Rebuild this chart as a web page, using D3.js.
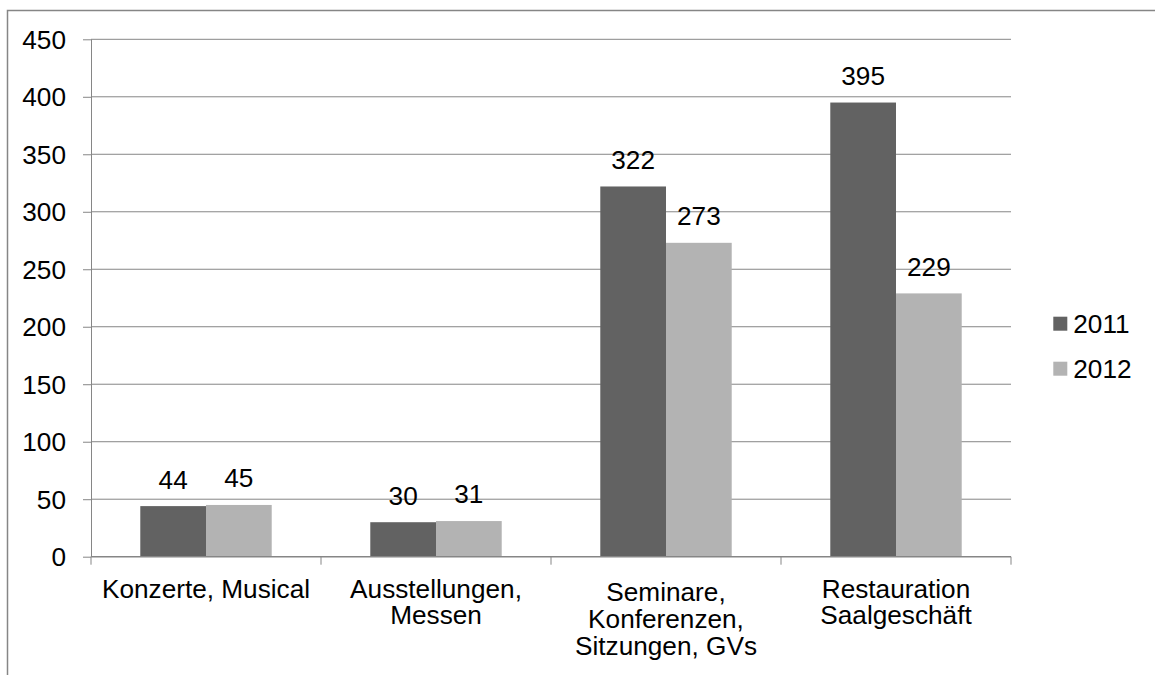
<!DOCTYPE html>
<html>
<head>
<meta charset="utf-8">
<script src="https://cdn.jsdelivr.net/npm/d3@7"></script>
<style>
  html, body { margin: 0; padding: 0; background: #fff; }
  svg { display: block; font-family: "Liberation Sans", Arial, sans-serif; }
</style>
</head>
<body>
<svg id="chart" width="1155" height="675"></svg>
<script>
const categories = ["Konzerte, Musical", "Ausstellungen, Messen", "Seminare, Konferenzen, Sitzungen, GVs", "Restauration Saalgeschäft"];
const categoryLines = [["Konzerte, Musical"], ["Ausstellungen,", "Messen"], ["Seminare,", "Konferenzen,", "Sitzungen, GVs"], ["Restauration", "Saalgeschäft"]];
const seriesNames = ["2011", "2012"];
const values2011 = [44, 30, 322, 395];
const values2012 = [45, 31, 273, 229];
const yTicks = [0, 50, 100, 150, 200, 250, 300, 350, 400, 450];
const colors = ["#626262", "#b3b3b3"];

(function () {
const seriesValues = [values2011, values2012];
const svg = d3.select("#chart");
const fontSize = 26.2;
const gridColor = "#868686";

// outer border
svg.append("rect")
  .attr("x", 7.5).attr("y", 10.5).attr("width", 1200).attr("height", 700)
  .attr("fill", "none").attr("stroke", gridColor).attr("stroke-width", 1.5);

const pLeft = 91, pRight = 1011, pTop = 39.3, pBottom = 556.7;
const y = d3.scaleLinear().domain([0, 450]).range([pBottom, pTop]);
const x = d3.scaleBand().domain(categories).range([pLeft, pRight]).paddingInner(0).paddingOuter(0);
const xs = d3.scaleBand().domain(seriesNames).range([0, x.bandwidth()]).paddingInner(0).paddingOuter(0.75);

// gridlines
svg.append("g").selectAll("line").data(yTicks.filter(d => d !== 0)).join("line")
  .attr("x1", pLeft).attr("x2", pRight)
  .attr("y1", d => y(d)).attr("y2", d => y(d))
  .attr("stroke", gridColor).attr("stroke-width", 1);

// bars
const groups = svg.append("g").selectAll("g").data(categories).join("g")
  .attr("transform", d => `translate(${x(d)},0)`);
groups.selectAll("rect").data((c, i) => seriesNames.map((s, j) => ({ s, j, v: seriesValues[j][i] })))
  .join("rect")
  .attr("x", d => xs(d.s)).attr("width", xs.bandwidth())
  .attr("y", d => y(d.v)).attr("height", d => y(0) - y(d.v))
  .attr("fill", d => colors[d.j]);
groups.selectAll("text").data((c, i) => seriesNames.map((s, j) => ({ s, j, v: seriesValues[j][i] })))
  .join("text")
  .attr("x", d => xs(d.s) + xs.bandwidth() / 2)
  .attr("y", d => y(d.v) - 17.6)
  .attr("text-anchor", "middle")
  .attr("font-size", fontSize).attr("fill", "#000")
  .text(d => d.v);

// y axis
const yAxis = svg.append("g").attr("transform", `translate(${pLeft},0)`)
  .call(d3.axisLeft(y).tickValues(yTicks).tickSize(8).tickPadding(17).tickFormat(d3.format("d")));
yAxis.select(".domain").attr("stroke", gridColor).attr("d", `M0.5,${pTop}V${pBottom}`);
yAxis.selectAll(".tick line").attr("stroke", gridColor);
yAxis.selectAll(".tick text").attr("font-size", fontSize).attr("font-family", "Liberation Sans, Arial, sans-serif")
  .attr("fill", "#000").attr("dy", "0.35em");

// x axis
const xAxis = svg.append("g");
xAxis.append("line").attr("x1", pLeft).attr("x2", pRight).attr("y1", pBottom).attr("y2", pBottom)
  .attr("stroke", gridColor).attr("stroke-width", 1.5);
const boundaries = categories.map(c => x(c)).concat([x(categories[categories.length - 1]) + x.bandwidth()]);
xAxis.selectAll("line.tick").data(boundaries).join("line").attr("class", "tick")
  .attr("x1", d => d).attr("x2", d => d).attr("y1", pBottom).attr("y2", pBottom + 8)
  .attr("stroke", gridColor).attr("stroke-width", 1);
const labels = xAxis.selectAll("text").data(categories).join("text")
  .attr("text-anchor", "middle").attr("font-size", fontSize).attr("fill", "#000")
  .attr("transform", (c, i) => `translate(${x(c) + x.bandwidth() / 2},${597.5 + (categoryLines[i].length > 2 ? 3.5 : 0)})`);
labels.selectAll("tspan").data((c, i) => categoryLines[i]).join("tspan")
  .attr("x", 0).attr("y", (d, k) => k * 26.8).text(d => d);

// legend
const legend = svg.append("g").selectAll("g").data(seriesNames).join("g")
  .attr("transform", (d, i) => `translate(1053.3,${316.7 + i * 45})`);
legend.append("rect").attr("width", 14).attr("height", 14).attr("fill", (d, i) => colors[i]);
legend.append("text").attr("x", 20).attr("y", 16.6).attr("font-size", fontSize).attr("fill", "#000").text(d => d);
})();
</script>
</body>
</html>
